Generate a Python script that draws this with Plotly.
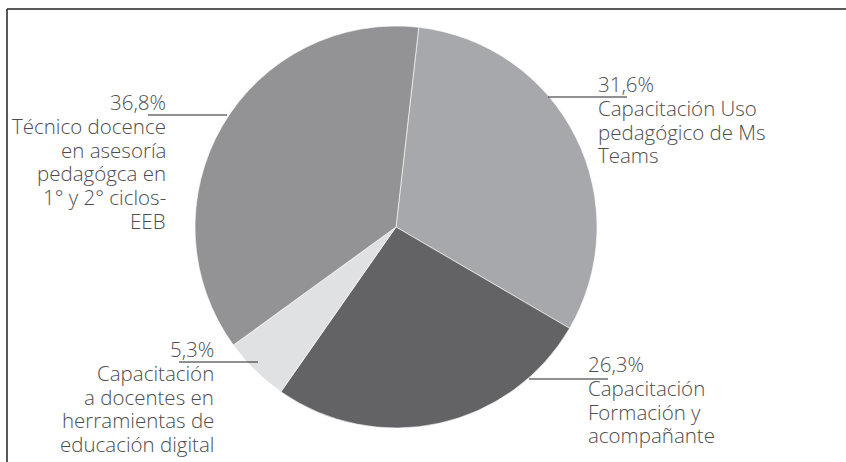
import plotly.graph_objects as go

W, H = 846, 462

labels = [
    "Capacitación Uso pedagógico de Ms Teams",
    "Capacitación Formación y acompañante",
    "Capacitación a docentes en herramientas de educación digital",
    "Técnico docence en asesoría pedagógca en 1° y 2° ciclos-EEB",
]
values = [31.6, 26.3, 5.3, 36.8]
pct_text = ["31,6%", "26,3%", "5,3%", "36,8%"]
label_lines = [
    ["Capacitación Uso", "pedagógico de Ms", "Teams"],
    ["Capacitación", "Formación y", "acompañante"],
    ["Capacitación", "a docentes en", "herramientas de", "educación digital"],
    ["Técnico docence", "en asesoría", "pedagógca en", "1° y 2° ciclos-", "EEB"],
]
colors = ["#a7a8ab", "#636365", "#e0e1e3", "#939396"]

# label placement in pixels: text x, first baseline y, side, leader line x0, x1, y
label_pos = [
    (597, 92, "left", 548, 627, 97),
    (587, 372, "left", 529, 608, 379),
    (215, 357, "right", 179, 258, 362),
    (167, 110, "right", 148, 227, 115),
]
LINE_H = 23.8
FONT_SIZE = 20.5


def px(x):
    return x / W


def py(y):
    return 1 - y / H


cx, cy, r = 396, 227, 201

fig = go.Figure(go.Pie(
    labels=labels,
    values=values,
    sort=False,
    direction="clockwise",
    rotation=6.5,
    textinfo="none",
    hoverinfo="label+percent",
    marker=dict(colors=colors, line=dict(color="white", width=0.6)),
    domain=dict(x=[px(cx - r), px(cx + r)], y=[py(cy + r), py(cy - r)]),
    showlegend=False,
))

annotations = []
shapes = []
for pct, lines, (tx, base, side, lx0, lx1, ly) in zip(pct_text, label_lines, label_pos):
    for i, line in enumerate([pct] + lines):
        annotations.append(dict(
            x=px(tx), y=py(base + i * LINE_H - 0.39 * FONT_SIZE),
            xref="paper", yref="paper",
            xanchor=side, yanchor="middle", align=side,
            text=line, showarrow=False, borderpad=0,
            font=dict(family="Open Sans", size=FONT_SIZE, color="#4d4d4d", weight=300),
        ))
    shapes.append(dict(type="line", xref="paper", yref="paper",
                       x0=px(lx0), x1=px(lx1), y0=py(ly), y1=py(ly),
                       line=dict(color="#222222", width=1.2)))

# frame
shapes.append(dict(type="line", xref="paper", yref="paper",
                   x0=px(7), x1=1, y0=py(9), y1=py(9),
                   line=dict(color="#222222", width=1.5)))
shapes.append(dict(type="line", xref="paper", yref="paper",
                   x0=px(7), x1=px(7), y0=py(9), y1=0,
                   line=dict(color="#222222", width=1.5)))

fig.update_layout(
    width=W, height=H,
    margin=dict(l=0, r=0, t=0, b=0),
    paper_bgcolor="white",
    plot_bgcolor="white",
    annotations=annotations,
    shapes=shapes,
)

fig.write_html("out.html", config={"displayModeBar": False},
               post_script="document.body.style.margin='0px';")
